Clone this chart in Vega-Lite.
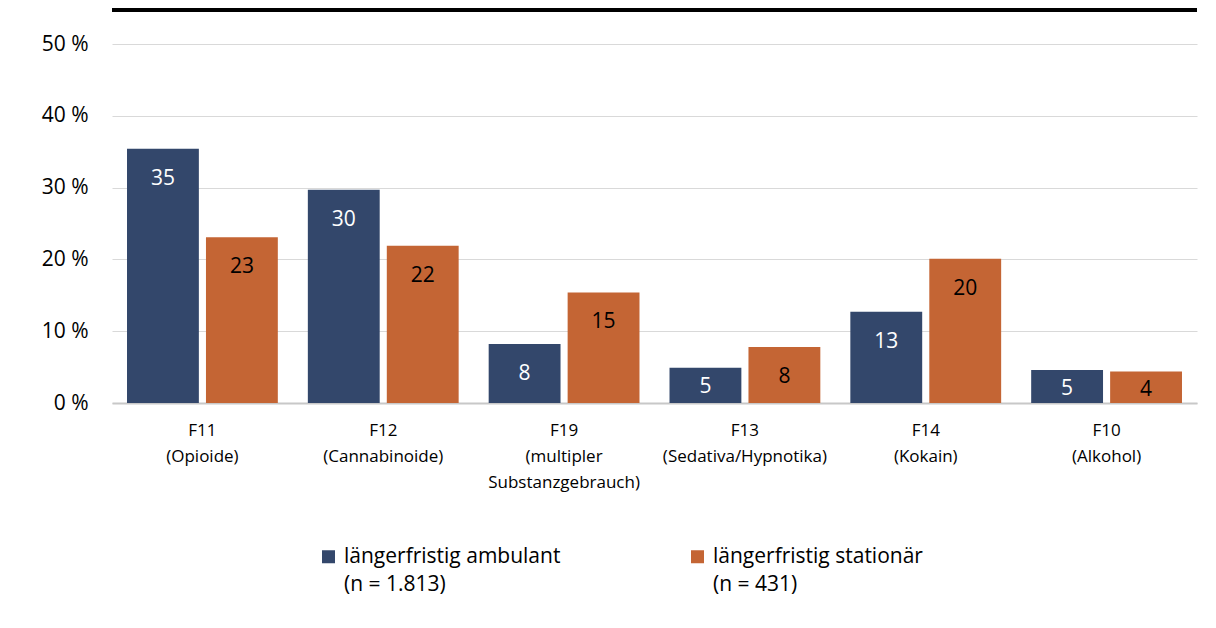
{
  "$schema": "https://vega.github.io/schema/vega-lite/v6.json",
  "width": 1085,
  "height": 359,
  "autosize": {"type": "none"},
  "padding": {"left": 112, "top": 44, "right": 19, "bottom": 225},
  "background": "white",
  "config": {
    "font": "Open Sans",
    "view": {"stroke": null},
    "axis": {"labelFont": "Open Sans", "labelColor": "#000000"},
    "style": {"guide-label": {"lineHeight": 28}}
  },
  "data": {
    "values": [
      {"cat": "F11\n(Opioide)", "series": "längerfristig ambulant\n(n = 1.813)", "value": 35.4},
      {"cat": "F11\n(Opioide)", "series": "längerfristig stationär\n(n = 431)", "value": 23.1},
      {"cat": "F12\n(Cannabinoide)", "series": "längerfristig ambulant\n(n = 1.813)", "value": 29.7},
      {"cat": "F12\n(Cannabinoide)", "series": "längerfristig stationär\n(n = 431)", "value": 21.9},
      {"cat": "F19\n(multipler\nSubstanzgebrauch)", "series": "längerfristig ambulant\n(n = 1.813)", "value": 8.2},
      {"cat": "F19\n(multipler\nSubstanzgebrauch)", "series": "längerfristig stationär\n(n = 431)", "value": 15.4},
      {"cat": "F13\n(Sedativa/Hypnotika)", "series": "längerfristig ambulant\n(n = 1.813)", "value": 4.9},
      {"cat": "F13\n(Sedativa/Hypnotika)", "series": "längerfristig stationär\n(n = 431)", "value": 7.8},
      {"cat": "F14\n(Kokain)", "series": "längerfristig ambulant\n(n = 1.813)", "value": 12.7},
      {"cat": "F14\n(Kokain)", "series": "längerfristig stationär\n(n = 431)", "value": 20.1},
      {"cat": "F10\n(Alkohol)", "series": "längerfristig ambulant\n(n = 1.813)", "value": 4.6},
      {"cat": "F10\n(Alkohol)", "series": "längerfristig stationär\n(n = 431)", "value": 4.4}
    ]
  },
  "encoding": {
    "x": {
      "field": "cat",
      "type": "nominal",
      "sort": null,
      "title": null,
      "scale": {"paddingInner": 0.166, "paddingOuter": 0.083},
      "axis": {
        "labelAngle": 0,
        "labelExpr": "split(datum.label, '\\n')",
        "labelFontSize": 17,
        "labelLineHeight": 26,
        "labelBaseline": "top",
        "labelPadding": 19,
        "labelLimit": 300,
        "ticks": false,
        "domainColor": "#c8c8c8",
        "domainWidth": 2,
        "grid": false
      }
    },
    "xOffset": {
      "field": "series",
      "type": "nominal",
      "sort": null,
      "scale": {"paddingInner": 0.09}
    },
    "y": {
      "field": "value",
      "type": "quantitative",
      "title": null,
      "scale": {"domain": [0, 50], "nice": false},
      "axis": {
        "values": [0, 10, 20, 30, 40, 50],
        "labelExpr": "datum.value + ' %'",
        "labelFontSize": 21,
        "labelPadding": 24,
        "ticks": false,
        "domain": false,
        "gridColor": "#d9d9d9",
        "gridWidth": 1
      }
    }
  },
  "layer": [
    {
      "mark": {"type": "bar"},
      "encoding": {
        "color": {
          "field": "series",
          "type": "nominal",
          "sort": null,
          "scale": {"range": ["#33476B", "#C46534"]},
          "legend": {
            "title": null,
            "orient": "none",
            "legendX": 206,
            "legendY": 502,
            "direction": "horizontal",
            "columns": 2,
            "columnPadding": 126,
            "padding": 0,
            "symbolType": "square",
            "symbolSize": 169,
            "symbolStrokeWidth": 0,
            "symbolOpacity": 1,
            "symbolOffset": 0,
            "labelExpr": "split(datum.label, '\\n')",
            "labelFont": "Open Sans",
            "labelFontSize": 21,
            "labelColor": "#000000",
            "labelBaseline": "middle",
            "labelOffset": 5,
            "labelLimit": 400
          }
        }
      }
    },
    {
      "transform": [{"filter": "datum.value >= 6"}],
      "mark": {"type": "text", "baseline": "middle", "dy": 30, "fontSize": 21, "font": "Open Sans"},
      "encoding": {
        "text": {"field": "value", "type": "quantitative", "format": ".0f"},
        "color": {
          "condition": {"test": "indexof(datum.series, 'ambulant') >= 0", "value": "#ffffff"},
          "value": "#000000"
        }
      }
    },
    {
      "transform": [{"filter": "datum.value < 6"}],
      "mark": {"type": "text", "baseline": "middle", "dy": 19, "fontSize": 21, "font": "Open Sans"},
      "encoding": {
        "text": {"field": "value", "type": "quantitative", "format": ".0f"},
        "color": {
          "condition": {"test": "indexof(datum.series, 'ambulant') >= 0", "value": "#ffffff"},
          "value": "#000000"
        }
      }
    },
    {
      "mark": {"type": "rule", "color": "#000000", "strokeWidth": 4},
      "encoding": {
        "y": {"datum": 54.74},
        "x": null,
        "xOffset": null
      }
    }
  ]
}
